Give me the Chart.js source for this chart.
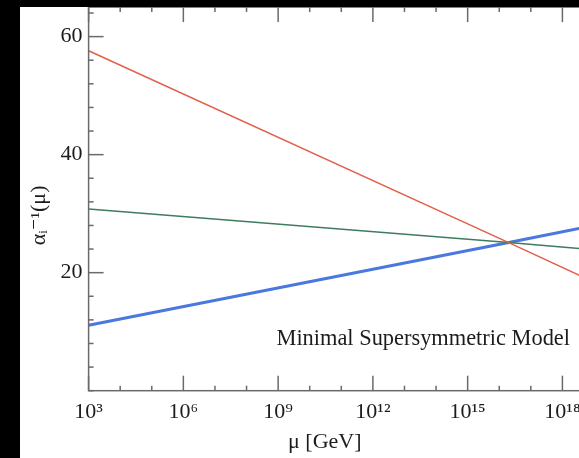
<!DOCTYPE html>
<html>
<head>
<meta charset="utf-8">
<script src="https://cdn.jsdelivr.net/npm/chart.js@4/dist/chart.umd.min.js"></script>
<style>
  html, body { margin: 0; padding: 0; background: #000; width: 579px; height: 458px; overflow: hidden; }
  #paper { position: absolute; left: 20px; top: 7px; width: 559px; height: 451px; overflow: hidden; background: #fff; }
  #box { position: absolute; left: 0; top: -1px; width: 574px; height: 452px; }
</style>
</head>
<body>
<div id="paper"><div id="box"><canvas id="c"></canvas></div></div>
<script>
// ---- data ----
const muGeV = [1e3, 2e16, 1e19];          // energy scale mu [GeV]
const alpha1Inv = [57.6, 25.1, 18.4];      // red line
const alpha2Inv = [30.8, 25.1, 23.9];      // green line
const alpha3Inv = [11.1, 25.1, 28.0];      // blue line
const xTickExponents = [3, 6, 9, 12, 15, 18];
const xTickLabels = ['10³', '10⁶', '10⁹', '10¹²', '10¹⁵', '10¹⁸'];
const yTickValues = [20, 40, 60];
const yTickLabels = ['20', '40', '60'];
const xRange = [1e3, 1e19];
const yRange = [0, 65];
const annotationText = 'Minimal Supersymmetric Model';
const xTitle = 'μ [GeV]';
const yTitle = 'αᵢ⁻¹(μ)';

const SERIF = '"Liberation Serif", "Times New Roman", "DejaVu Serif", serif';
const TEXT = '#1c1c1c';
const AXIS = '#6a6a6a';

const pts = ys => muGeV.map((m, i) => ({ x: m, y: ys[i] }));

const frame = {
  id: 'frame',
  afterDatasetsDraw(chart) {
    const { ctx, chartArea: a, scales: { x, y } } = chart;
    ctx.save();
    ctx.strokeStyle = AXIS;
    ctx.lineWidth = 1.5;
    const seg = (x1, y1, x2, y2) => { ctx.beginPath(); ctx.moveTo(x1, y1); ctx.lineTo(x2, y2); ctx.stroke(); };
    ctx.strokeRect(a.left, a.top, a.right - a.left, a.bottom - a.top);
    const eMin = Math.round(Math.log10(xRange[0])), eMax = Math.round(Math.log10(xRange[1]));
    for (let e = eMin; e <= eMax; e++) {
      const px = x.getPixelForValue(Math.pow(10, e));
      const len = xTickExponents.includes(e) ? 15 : 5;
      seg(px, a.bottom, px, a.bottom - len);
      seg(px, a.top, px, a.top + len);
    }
    for (let v = yRange[0]; v <= yRange[1]; v += 4) {
      const py = y.getPixelForValue(v);
      const len = yTickValues.includes(v) ? 15 : 5;
      seg(a.left, py, a.left + len, py);
      seg(a.right, py, a.right - len, py);
    }
    ctx.fillStyle = TEXT;
    ctx.font = '22.4px ' + SERIF;
    ctx.textAlign = 'right';
    ctx.textBaseline = 'alphabetic';
    ctx.fillText(annotationText, a.right - 24, a.top + 338);
    ctx.restore();
  }
};

new Chart(document.getElementById('c'), {
  type: 'line',
  data: {
    datasets: [
      { data: pts(alpha1Inv), borderColor: '#e2604b', borderWidth: 1.5 },
      { data: pts(alpha2Inv), borderColor: '#3f7c5e', borderWidth: 1.5 },
      { data: pts(alpha3Inv), borderColor: '#4a78de', borderWidth: 3 }
    ]
  },
  options: {
    responsive: true,
    maintainAspectRatio: false,
    animation: false,
    layout: { padding: 0 },
    elements: { point: { radius: 0 }, line: { tension: 0 } },
    plugins: { legend: { display: false }, tooltip: { enabled: false } },
    scales: {
      x: {
        type: 'logarithmic',
        min: xRange[0], max: xRange[1],
        border: { display: false },
        grid: { display: false, drawTicks: false },
        afterBuildTicks: s => { s.ticks = xTickExponents.map(e => ({ value: Math.pow(10, e) })); },
        afterFit: s => { s.height = 67.3; },
        ticks: {
          autoSkip: false, maxRotation: 0, padding: 8, color: TEXT,
          font: { family: SERIF, size: 22 },
          callback: (v, i) => xTickLabels[i]
        },
        title: {
          display: true, text: xTitle + '      ', color: TEXT,
          font: { family: SERIF, size: 22 },
          padding: { top: 0, bottom: 3 }
        }
      },
      y: {
        min: yRange[0], max: yRange[1],
        border: { display: false },
        grid: { display: true, drawOnChartArea: false, drawTicks: true, tickLength: 6, color: 'rgba(0,0,0,0)' },
        afterBuildTicks: s => { s.ticks = yTickValues.map(v => ({ value: v })); },
        afterFit: s => { s.width = 68.6; },
        ticks: {
          autoSkip: false, padding: 0, color: TEXT,
          font: { family: SERIF, size: 22, lineHeight: 0.1 },
          callback: (v, i) => yTickLabels[i]
        },
        title: {
          display: true, text: yTitle + '      ', color: TEXT,
          font: { family: SERIF, size: 22 },
          padding: { top: 6, bottom: 0 }
        }
      }
    }
  },
  plugins: [frame]
});
</script>
</body>
</html>
